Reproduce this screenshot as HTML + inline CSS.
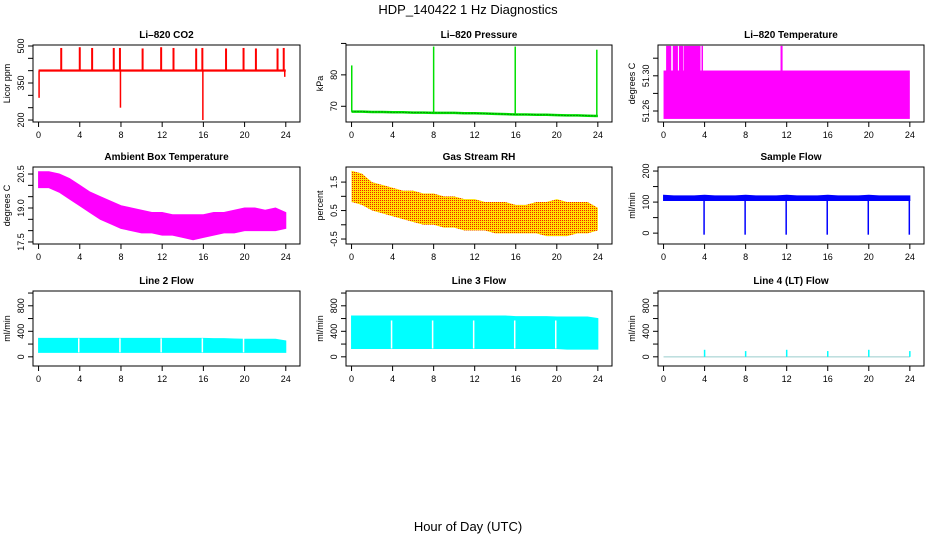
<!DOCTYPE html>
<html><head><meta charset="utf-8"><style>
body{margin:0;background:#fff}
svg{display:block;font-family:"Liberation Sans",sans-serif}
</style></head><body>
<svg id="s" width="936" height="540" viewBox="0 0 936 540">
<defs>
<pattern id="rhpat" width="2" height="2" patternUnits="userSpaceOnUse"><rect width="2" height="2" fill="#ffe000"/><rect width="1" height="1" fill="#f02000"/></pattern>
</defs>
<text x="468" y="14" text-anchor="middle" font-size="13">HDP_140422  1 Hz Diagnostics</text>
<text x="468" y="531" text-anchor="middle" font-size="13">Hour of Day (UTC)</text>
</svg>
<script>
// ---- data ----
const hours = [0,1,2,3,4,5,6,7,8,9,10,11,12,13,14,15,16,17,18,19,20,21,22,23,24];
const xTicks = [0,4,8,12,16,20,24];
// CO2
const co2Base = [[0,396,405],[24,396,405]];
const co2SpikeHours = [2.2,4.0,5.2,7.3,7.9,10.1,11.9,13.1,15.3,15.9,18.2,19.9,21.1,23.2,23.8];
const co2SpikeVals = [492,495,492,492,492,490,495,492,490,492,490,492,490,490,492];
const co2DipHours = [0.05,7.95,15.95,23.9];
const co2DipVals = [290,250,200,375];
const co2Ticks = [200,250,300,350,400,450,500];
const co2Labels = ["200","350","500"];
// Pressure
const presBase = [68.3,68.3,68.2,68.2,68.1,68.1,68.0,68.0,67.9,67.9,67.9,67.8,67.8,67.7,67.6,67.5,67.4,67.4,67.3,67.3,67.2,67.1,67.1,67.0,66.9];
const presSpikeHours = [0.02,8.0,15.95,23.9];
const presSpikeVals = [83,89,89,88];
const presTicks = [70,80,90];
const presLabels = ["70","80"];
// Li-820 temperature bands [start,end,lo,hi]
const ltBandStart = [0.0,0.25,0.9,1.5,1.95,3.7,11.4];
const ltBandEnd = [24.0,0.75,1.4,1.9,3.6,3.75,11.6];
const ltBandLo = [51.251,51.279,51.279,51.279,51.279,51.279,51.306];
const ltBandHi = [51.306,51.334,51.334,51.334,51.334,51.334,51.334];
const ltTicks = [51.26,51.28,51.30,51.32];
const ltLabels = ["51.26","51.30"];
// Ambient temperature envelope
const ambLo = [19.9,19.9,19.7,19.4,19.1,18.8,18.5,18.3,18.1,18.0,17.9,17.9,17.8,17.8,17.7,17.6,17.7,17.8,17.9,17.9,18.0,18.0,18.0,18.0,18.1];
const ambHi = [20.6,20.6,20.5,20.3,20.0,19.7,19.5,19.3,19.1,19.0,18.9,18.8,18.8,18.7,18.7,18.7,18.7,18.8,18.8,18.9,19.0,19.0,18.9,19.0,18.8];
const ambTicks = [17.5,18.0,18.5,19.0,19.5,20.0,20.5];
const ambLabels = ["17.5","19.0","20.5"];
// Gas stream RH envelope
const rhLo = [0.8,0.7,0.5,0.4,0.3,0.2,0.1,0.0,0.0,-0.1,-0.1,-0.2,-0.2,-0.2,-0.3,-0.3,-0.3,-0.3,-0.3,-0.4,-0.4,-0.4,-0.3,-0.3,-0.2];
const rhHi = [1.9,1.8,1.5,1.4,1.3,1.2,1.2,1.1,1.1,1.0,1.0,0.9,0.9,0.8,0.8,0.8,0.7,0.7,0.8,0.8,0.9,0.8,0.8,0.8,0.6];
const rhTicks = [-0.5,0,0.5,1.0,1.5];
const rhLabels = ["-0.5","0.5","1.5"];
// Sample flow
const sfLo = [105,105,105,105,105,105,105,105,105,105,105,105,105,105,105,105,105,105,105,105,105,105,105,105,105];
const sfHi = [122,120,120,120,122,120,120,120,122,120,120,120,122,120,120,120,122,120,120,120,122,120,120,120,120];
const sfDipHours = [3.95,7.95,11.95,15.95,19.95,23.95];
const sfDipVals = [-5,-5,-5,-5,-5,-5];
const sfTicks = [0,50,100,150,200];
const sfLabels = ["0","100","200"];
// Line flows
const l2Lo = [70,70,70,70,70,70,70,70,70,70,70,70,70,70,70,70,70,70,70,70,70,70,70,70,70];
const l2Hi = [290,290,290,290,290,290,290,290,290,290,290,290,290,290,290,290,290,285,285,280,275,275,275,275,250];
const l3Lo = [130,130,130,130,130,130,130,130,130,130,130,130,130,130,130,130,130,130,130,130,130,120,120,120,120];
const l3Hi = [640,640,640,640,640,640,640,640,640,640,640,640,640,640,640,640,630,630,630,630,625,625,625,625,600];
const gapHours = [3.9,7.9,11.9,15.9,19.9];
const l4SpikeHours = [4,8,12,16,20,24];
const l4SpikeVals = [110,90,110,90,110,90];
const flowTicks = [0,200,400,600,800,1000];
const flowLabels = ["0","400","800"];

// ---- layout ----
const NS = "http://www.w3.org/2000/svg";
const svg = document.getElementById('s');
const cols = [{l:33,r:300},{l:346,r:612},{l:658,r:924}];
const rows = [{t:45,b:122},{t:167,b:244},{t:291,b:366}];
function mk(tag, attrs, parent){
  const e = document.createElementNS(NS, tag);
  for (const k in attrs) e.setAttribute(k, attrs[k]);
  (parent||svg).appendChild(e);
  return e;
}
function panel(ci, ri, title, ylab, ylim, ticks, labels, name){
  const c = cols[ci], r = rows[ri];
  const g = mk('g', {});
  
  
  const w = c.r - c.l, span = 24*1.08;
  const x = h => c.l + (h + 0.54) / span * w;
  const y = v => r.b - (v - ylim[0]) / (ylim[1] - ylim[0]) * (r.b - r.t);
  const plot = mk('g', {}, g);
  
  
  const frame = mk('rect', {x:c.l, y:r.t, width:w, height:r.b-r.t, fill:'none', stroke:'#000', 'stroke-width':1}, g);
  
  
  const tt = mk('text', {x:(c.l+c.r)/2, y:r.t-7, 'text-anchor':'middle', 'font-size':10, 'font-weight':'bold'}, g);
  tt.textContent = title;
  
  
  const xa = mk('g', {}, g);
  
  
  mk('line', {x1:x(xTicks[0]), x2:x(xTicks[xTicks.length-1]), y1:r.b, y2:r.b, stroke:'#000'}, xa);
  xTicks.forEach(t => {
    mk('line', {x1:x(t), x2:x(t), y1:r.b, y2:r.b+5, stroke:'#000'}, xa);
    const tx = mk('text', {x:x(t), y:r.b+16, 'text-anchor':'middle', 'font-size':9}, xa);
    tx.textContent = t;
  });
  const ya = mk('g', {}, g);
  
  
  mk('line', {x1:c.l, x2:c.l, y1:y(ticks[0]), y2:y(ticks[ticks.length-1]), stroke:'#000'}, ya);
  ticks.forEach(t => mk('line', {x1:c.l-5, x2:c.l, y1:y(t), y2:y(t), stroke:'#000'}, ya));
  labels.forEach(l => {
    const v = parseFloat(l), px = c.l - 9, py = y(v);
    const tx = mk('text', {x:px, y:py, 'text-anchor':'middle', 'font-size':9, transform:`rotate(-90 ${px} ${py})`}, ya);
    tx.textContent = l;
  });
  const yl = mk('text', {x:c.l-23, y:(r.t+r.b)/2, 'text-anchor':'middle', 'font-size':9, transform:`rotate(-90 ${c.l-23} ${(r.t+r.b)/2})`}, g);
  yl.textContent = ylab;
  
  
  return {x, y, plot};
}
function envelope(p, lo, hi, fill){
  let d = 'M' + hours.map((h,i)=>p.x(h)+','+p.y(hi[i])).join(' L');
  d += ' L' + hours.slice().reverse().map((h,j)=>{const i=hours.length-1-j; return p.x(h)+','+p.y(lo[i]);}).join(' L') + 'Z';
  const e = mk('path', {d, fill, stroke:fill==='url(#rhpat)'?'none':fill, 'stroke-width':1}, p.plot);
  
  
}
function spikes(p, hs, vs, base, color, wdt){
  hs.forEach((h,i)=>{
    const e = mk('line', {x1:p.x(h), x2:p.x(h), y1:p.y(base), y2:p.y(vs[i]), stroke:color, 'stroke-width':wdt||1.5}, p.plot);
    
    
  });
}
function gaps(p, lo, hi){
  gapHours.forEach(h=>{
    const e = mk('line', {x1:p.x(h), x2:p.x(h), y1:p.y(lo), y2:p.y(hi), stroke:'#fff', 'stroke-width':1.5}, p.plot);
    
    
  });
}

// CO2
let p = panel(0,0,'Li\u2013820 CO2','Licor ppm',[192,504],co2Ticks,co2Labels,'co2');
const co2b = mk('rect',{x:p.x(co2Base[0][0]),y:p.y(co2Base[0][2]),width:p.x(co2Base[1][0])-p.x(co2Base[0][0]),height:p.y(co2Base[0][1])-p.y(co2Base[0][2]),fill:'#f00'},p.plot);


spikes(p, co2SpikeHours, co2SpikeVals, 400, '#f00', 2);
spikes(p, co2DipHours, co2DipVals, 400, '#f00', 1.5);

// Pressure
p = panel(1,0,'Li\u2013820 Pressure','kPa',[65,89.5],presTicks,presLabels,'pressure');
const pl = mk('polyline',{points:hours.map((h,i)=>p.x(h)+','+p.y(presBase[i])).join(' '),fill:'none',stroke:'#00e000','stroke-width':2.5},p.plot);


const pl2 = mk('polyline',{points:hours.map((h,i)=>p.x(h)+','+p.y(presBase[i])).join(' '),fill:'none',stroke:'#000','stroke-width':0.6,'stroke-dasharray':'1 2'},p.plot);


presSpikeHours.forEach((h,i)=>{
  spikes(p,[h],[presSpikeVals[i]],presBase[Math.round(h)],'#00e000',1.5);
});

// Li temp
p = panel(2,0,'Li\u2013820 Temperature','degrees C',[51.2475,51.335],ltTicks,ltLabels,'li-temperature');
ltBandStart.forEach((s,i)=>{
  const e = mk('rect',{x:p.x(s),y:p.y(ltBandHi[i]),width:Math.max(1.5,p.x(ltBandEnd[i])-p.x(s)),height:p.y(ltBandLo[i])-p.y(ltBandHi[i]),fill:'#f0f'},p.plot);
  
  
});

// Ambient
p = panel(0,1,'Ambient Box Temperature','degrees C',[17.41,20.81],ambTicks,ambLabels,'ambient-temperature');
envelope(p, ambLo, ambHi, '#f0f');

// RH
p = panel(1,1,'Gas Stream RH','percent',[-0.675,2.03],rhTicks,rhLabels,'gas-stream-rh');
envelope(p, rhLo, rhHi, 'url(#rhpat)');

// Sample flow
p = panel(2,1,'Sample Flow','ml/min',[-35,213],sfTicks,sfLabels,'sample-flow');
envelope(p, sfLo, sfHi, '#00f');
spikes(p, sfDipHours, sfDipVals, 110, '#00f', 1.5);

// Line 2
p = panel(0,2,'Line 2 Flow','ml/min',[-144,1032],flowTicks,flowLabels,'line-2-flow');
envelope(p, l2Lo, l2Hi, '#0ff');
gaps(p, 70, 290);
// Line 3
p = panel(1,2,'Line 3 Flow','ml/min',[-144,1032],flowTicks,flowLabels,'line-3-flow');
envelope(p, l3Lo, l3Hi, '#0ff');
gaps(p, 130, 570);
// Line 4
p = panel(2,2,'Line 4 (LT) Flow','ml/min',[-144,1032],flowTicks,flowLabels,'line-4-flow');
const l4 = mk('line',{x1:p.x(0),x2:p.x(24),y1:p.y(0),y2:p.y(0),stroke:'#9cc','stroke-width':1},p.plot);


spikes(p, l4SpikeHours, l4SpikeVals, 0, '#0ff', 1.5);
</script>
</body></html>
